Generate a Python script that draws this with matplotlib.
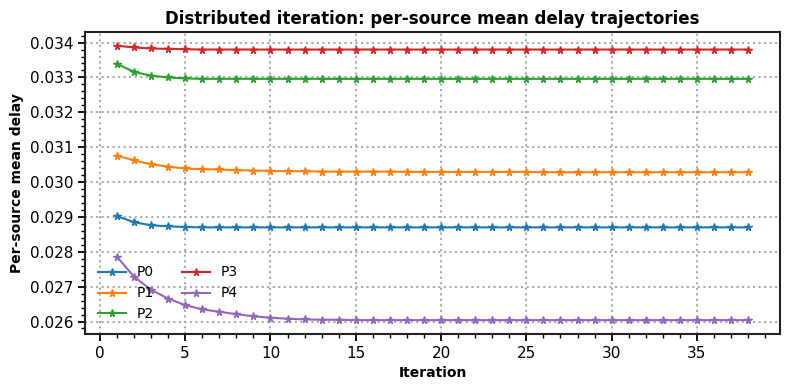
import matplotlib
matplotlib.use('Agg')
import matplotlib.pyplot as plt
from matplotlib.ticker import AutoMinorLocator

iterations = list(range(1, 39))

p0 = [0.02902, 0.02885, 0.02876, 0.02873, 0.02871, 0.02870, 0.02870, 0.02870,
      0.02870, 0.02870, 0.02870, 0.02870, 0.02870, 0.02870, 0.02870, 0.02870,
      0.02870, 0.02870, 0.02870, 0.02870, 0.02870, 0.02870, 0.02870, 0.02870,
      0.02870, 0.02870, 0.02870, 0.02870, 0.02870, 0.02870, 0.02870, 0.02870,
      0.02870, 0.02870, 0.02870, 0.02870, 0.02870, 0.02870]
p1 = [0.03076, 0.03062, 0.03051, 0.03044, 0.03039, 0.03037, 0.03036, 0.03034,
      0.03033, 0.03032, 0.03031, 0.03031, 0.03030, 0.03030, 0.03030, 0.03030,
      0.03030, 0.03029, 0.03029, 0.03029, 0.03029, 0.03029, 0.03029, 0.03029,
      0.03029, 0.03028, 0.03028, 0.03028, 0.03028, 0.03028, 0.03028, 0.03028,
      0.03028, 0.03028, 0.03028, 0.03028, 0.03028, 0.03028]
p2 = [0.03339, 0.03316, 0.03305, 0.03300, 0.03297, 0.03296, 0.03296, 0.03296,
      0.03296, 0.03296, 0.03296, 0.03296, 0.03296, 0.03296, 0.03296, 0.03296,
      0.03296, 0.03296, 0.03296, 0.03296, 0.03296, 0.03296, 0.03296, 0.03296,
      0.03296, 0.03296, 0.03296, 0.03296, 0.03296, 0.03296, 0.03296, 0.03296,
      0.03296, 0.03296, 0.03296, 0.03296, 0.03296, 0.03296]
p3 = [0.03391, 0.03386, 0.03383, 0.03382, 0.03381, 0.03380, 0.03380, 0.03380,
      0.03380, 0.03380, 0.03380, 0.03380, 0.03380, 0.03380, 0.03380, 0.03380,
      0.03380, 0.03380, 0.03380, 0.03380, 0.03380, 0.03380, 0.03380, 0.03380,
      0.03380, 0.03380, 0.03380, 0.03380, 0.03380, 0.03380, 0.03380, 0.03380,
      0.03380, 0.03380, 0.03380, 0.03380, 0.03380, 0.03380]
p4 = [0.02786, 0.02729, 0.02691, 0.02666, 0.02647, 0.02635, 0.02628, 0.02621,
      0.02615, 0.02611, 0.02608, 0.02606, 0.02605, 0.02605, 0.02604, 0.02604,
      0.02604, 0.02604, 0.02604, 0.02604, 0.02604, 0.02604, 0.02604, 0.02604,
      0.02604, 0.02604, 0.02604, 0.02604, 0.02604, 0.02604, 0.02604, 0.02604,
      0.02604, 0.02604, 0.02604, 0.02604, 0.02604, 0.02604]

series = [('P0', p0), ('P1', p1), ('P2', p2), ('P3', p3), ('P4', p4)]

fig, ax = plt.subplots(figsize=(7.9, 3.9), dpi=100)

for name, vals in series:
    ax.plot(iterations, vals, marker='*', markersize=5.5, linewidth=1.5, label=name)

ax.set_title('Distributed iteration: per-source mean delay trajectories',
             fontsize=12, fontweight='bold')
ax.set_xlabel('Iteration', fontsize=10, fontweight='bold')
ax.set_ylabel('Per-source mean delay', fontsize=10, fontweight='bold')

ax.grid(True, linestyle=':', linewidth=1.5, color='#aaaaaa')
ax.xaxis.set_minor_locator(AutoMinorLocator())
ax.yaxis.set_minor_locator(AutoMinorLocator())
ax.tick_params(which='major', length=5, width=1.3, labelsize=11)
ax.tick_params(which='minor', length=3, width=1.0)
for sp in ax.spines.values():
    sp.set_linewidth(1.5)
    sp.set_color('#222222')

ax.legend(ncol=2, loc='lower left', frameon=False, fontsize=10)

fig.subplots_adjust(left=0.108, right=0.987, top=0.918, bottom=0.144)
plt.savefig('out.png', dpi=100)
